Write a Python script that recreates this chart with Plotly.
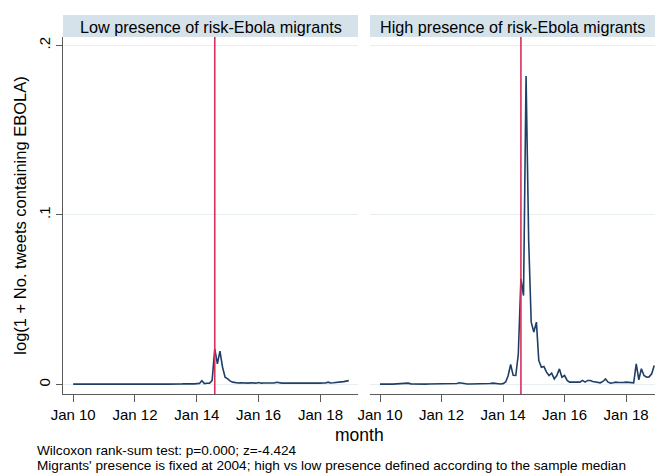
import pandas as pd
import plotly.graph_objects as go

months = pd.date_range("2010-01-01", "2018-12-01", freq="MS")

low_presence = [
    0.0002, 0.0003, 0.0002, 0.0003, 0.0002, 0.0002, 0.0003, 0.0002, 0.0003, 0.0002, 0.0003, 0.0002,
    0.0003, 0.0002, 0.0002, 0.0003, 0.0002, 0.0003, 0.0002, 0.0003, 0.0002, 0.0003, 0.0002, 0.0003,
    0.0003, 0.0002, 0.0003, 0.0002, 0.0003, 0.0003, 0.0004, 0.0003, 0.0002, 0.0003, 0.0003, 0.0002,
    0.0003, 0.0002, 0.0003, 0.0003, 0.0002, 0.0003, 0.0003, 0.0004, 0.0003, 0.0003, 0.0002, 0.0004,
    0.0005, 0.0006, 0.0022, 0.0005, 0.0007, 0.0008, 0.0024, 0.0210, 0.0122, 0.0197, 0.0102, 0.0043,
    0.0033, 0.0020, 0.0014, 0.0011, 0.0009, 0.0010, 0.0008, 0.0009, 0.0008, 0.0010, 0.0009, 0.0008,
    0.0012, 0.0008, 0.0009, 0.0008, 0.0009, 0.0008, 0.0009, 0.0013, 0.0009, 0.0008, 0.0009, 0.0008,
    0.0009, 0.0010, 0.0008, 0.0009, 0.0008, 0.0009, 0.0010, 0.0008, 0.0009, 0.0008, 0.0009, 0.0010,
    0.0008, 0.0009, 0.0009, 0.0014, 0.0009, 0.0010, 0.0011, 0.0013, 0.0015, 0.0017, 0.0020, 0.0023,
]

high_presence = [
    0.0002, 0.0003, 0.0002, 0.0003, 0.0003, 0.0002, 0.0003, 0.0004, 0.0003, 0.0003, 0.0006, 0.0008,
    0.0004, 0.0003, 0.0003, 0.0002, 0.0003, 0.0003, 0.0002, 0.0003, 0.0003, 0.0002, 0.0003, 0.0003,
    0.0003, 0.0003, 0.0002, 0.0003, 0.0003, 0.0004, 0.0006, 0.0010, 0.0007, 0.0004, 0.0003, 0.0003,
    0.0003, 0.0002, 0.0003, 0.0003, 0.0002, 0.0003, 0.0004, 0.0006, 0.0008, 0.0005, 0.0004, 0.0003,
    0.0005, 0.0015, 0.0050, 0.0118, 0.0054, 0.0053, 0.0180, 0.0624, 0.0525, 0.1820, 0.0850, 0.0368,
    0.0310, 0.0368, 0.0142, 0.0102, 0.0106, 0.0073, 0.0053, 0.0067, 0.0033, 0.0053, 0.0092, 0.0043,
    0.0053, 0.0024, 0.0014, 0.0014, 0.0012, 0.0015, 0.0014, 0.0024, 0.0014, 0.0024, 0.0024, 0.0018,
    0.0014, 0.0012, 0.0010, 0.0018, 0.0033, 0.0014, 0.0008, 0.0010, 0.0014, 0.0012, 0.0010, 0.0012,
    0.0014, 0.0012, 0.0010, 0.0010, 0.0122, 0.0028, 0.0093, 0.0053, 0.0043, 0.0045, 0.0063, 0.0112,
]

panel_titles = ["Low presence of risk-Ebola migrants", "High presence of risk-Ebola migrants"]
x_tick_vals = ["2010-01-01", "2012-01-01", "2014-01-01", "2016-01-01", "2018-01-01"]
x_tick_text = ["Jan 10", "Jan 12", "Jan 14", "Jan 16", "Jan 18"]
y_tick_vals = [0, 0.1, 0.2]
y_tick_text = ["0", ".1", ".2"]
event_month = "2014-08-01"

FONT = "Liberation Sans, Arial, Helvetica, sans-serif"
NAVY = "#1f3f66"
RED = "#d8305c"
STRIP = "#d6e2ea"
GRID = "#e8eff3"
AXIS = "#5a5a5a"

W, H = 657, 476
ML, MR, MT, MB = 63, 2, 37, 82
PW = W - ML - MR
PH = H - MT - MB

def px_x(p):
    return (p - ML) / PW

def px_y(p):
    return (H - MB - p) / PH

fig = go.Figure()

fig.add_trace(go.Scatter(x=months, y=low_presence, mode="lines",
                         line=dict(color=NAVY, width=1.6), xaxis="x", yaxis="y",
                         showlegend=False, hoverinfo="skip"))
fig.add_trace(go.Scatter(x=months, y=high_presence, mode="lines",
                         line=dict(color=NAVY, width=1.6), xaxis="x2", yaxis="y2",
                         showlegend=False, hoverinfo="skip"))

xcommon = dict(type="date", tickvals=x_tick_vals, ticktext=x_tick_text,
               ticks="outside", ticklen=7, tickcolor=AXIS, tickwidth=1,
               showline=True, linecolor=AXIS, linewidth=1, showgrid=False,
               zeroline=False, tickfont=dict(size=15, color="black", family=FONT),
               fixedrange=True)
ycommon = dict(range=[-0.0056, 0.205], tickvals=y_tick_vals, ticktext=y_tick_text,
               showgrid=True, gridcolor=GRID, gridwidth=1, zeroline=False,
               fixedrange=True)

fig.update_layout(
    width=W, height=H,
    margin=dict(l=ML, r=MR, t=MT, b=MB, pad=0),
    paper_bgcolor="white", plot_bgcolor="white",
    font=dict(family=FONT, size=15, color="black"),
    xaxis=dict(domain=[0, px_x(358)], range=["2009-09-03", "2019-03-20"], anchor="y", **xcommon),
    xaxis2=dict(domain=[px_x(370), 1.0], range=["2009-09-04", "2018-12-10"], anchor="y2", **xcommon),
    yaxis=dict(anchor="x", showline=True, linecolor=AXIS, linewidth=1,
               ticks="outside", ticklen=6, tickcolor=AXIS, tickangle=-90,
               tickfont=dict(size=15, color="black", family=FONT),
               title=dict(text="log(1 + No. tweets containing EBOLA)", standoff=5,
                          font=dict(size=16.5, color="black", family=FONT)),
               **ycommon),
    yaxis2=dict(anchor="x2", matches="y", showline=False, ticks="", showticklabels=False,
                **ycommon),
)

for i, (x0, x1) in enumerate([(63, 358), (370, 655)]):
    fig.add_shape(type="rect", xref="paper", yref="paper",
                  x0=px_x(x0), x1=px_x(x1), y0=px_y(37), y1=px_y(15),
                  fillcolor=STRIP, line=dict(width=0), layer="below")
    fig.add_annotation(xref="paper", yref="paper", x=(px_x(x0) + px_x(x1)) / 2, y=px_y(26.5),
                       text=panel_titles[i], showarrow=False, xanchor="center", yanchor="middle",
                       font=dict(size=16.2, color="black", family=FONT))

for xr, yr in [("x", "y domain"), ("x2", "y2 domain")]:
    fig.add_shape(type="line", xref=xr, yref=yr, x0=event_month, x1=event_month, y0=0, y1=1,
                  line=dict(color=RED, width=1.6), layer="above")

fig.add_annotation(xref="paper", yref="paper", x=px_x(359), y=px_y(435), text="month",
                   showarrow=False, xanchor="center", yanchor="middle",
                   font=dict(size=17.5, color="black", family=FONT))
fig.add_annotation(xref="paper", yref="paper", x=px_x(35), y=px_y(450.5),
                   text="Wilcoxon rank-sum test: p=0.000; z=-4.424",
                   showarrow=False, xanchor="left", yanchor="middle",
                   font=dict(size=13.6, color="black", family=FONT))
fig.add_annotation(xref="paper", yref="paper", x=px_x(35), y=px_y(465.5),
                   text="Migrants' presence is fixed at 2004; high vs low presence defined according to the sample median",
                   showarrow=False, xanchor="left", yanchor="middle",
                   font=dict(size=13.6, color="black", family=FONT))

fig.write_html("out.html", config={"displayModeBar": False},
               post_script="document.body.style.margin='0';document.body.style.padding='0';")
